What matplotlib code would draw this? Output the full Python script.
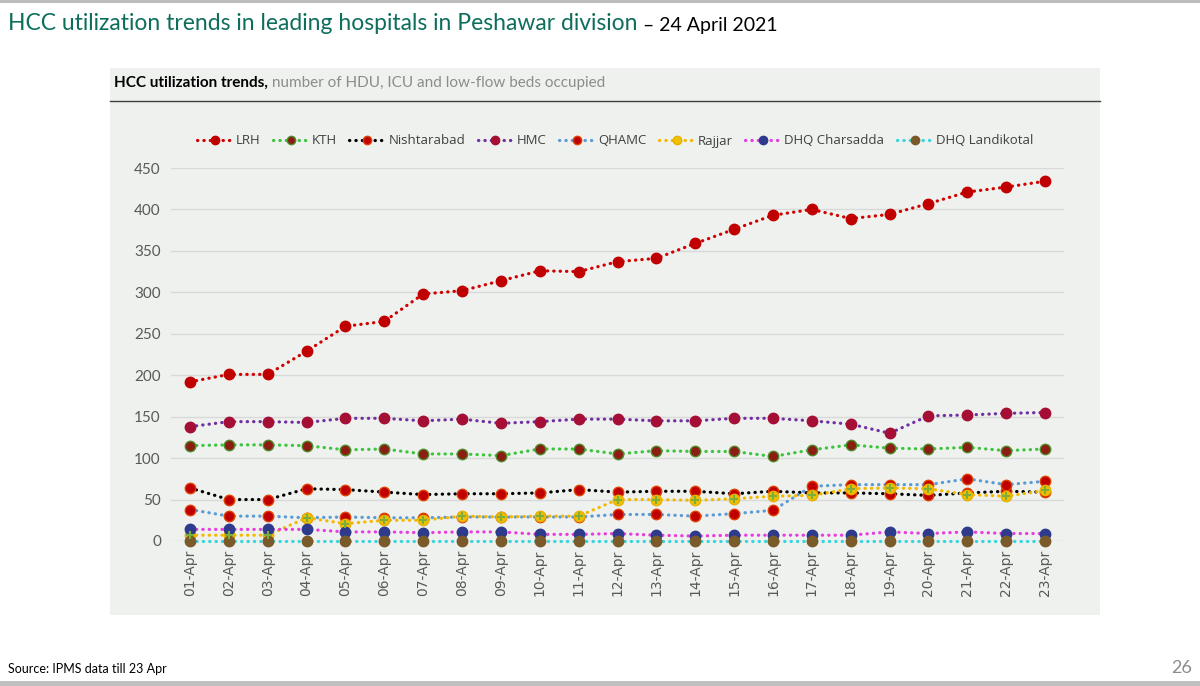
import matplotlib
matplotlib.use("Agg")
import matplotlib.pyplot as plt
from matplotlib.patches import Rectangle
from matplotlib.lines import Line2D
from matplotlib.text import Annotation

dates = ["01-Apr", "02-Apr", "03-Apr", "04-Apr", "05-Apr", "06-Apr", "07-Apr", "08-Apr",
         "09-Apr", "10-Apr", "11-Apr", "12-Apr", "13-Apr", "14-Apr", "15-Apr", "16-Apr",
         "17-Apr", "18-Apr", "19-Apr", "20-Apr", "21-Apr", "22-Apr", "23-Apr"]

lrh = [192, 201, 201, 229, 259, 265, 298, 302, 314, 326, 325, 337, 341, 359, 376, 393,
       400, 389, 394, 407, 421, 427, 434]
kth = [115, 116, 116, 115, 110, 111, 105, 105, 103, 111, 111, 105, 109, 108, 108, 102,
       110, 116, 112, 111, 113, 109, 111]
nishtarabad = [64, 50, 50, 63, 62, 59, 56, 57, 57, 58, 62, 59, 60, 60, 57, 60,
               58, 58, 57, 55, 58, 60, 59]
hmc = [138, 144, 144, 143, 148, 148, 145, 147, 142, 144, 147, 147, 145, 145, 148, 148,
       145, 141, 130, 151, 152, 154, 155]
qhamc = [38, 30, 30, 28, 29, 28, 28, 29, 29, 29, 29, 32, 32, 30, 33, 37,
         66, 68, 68, 68, 75, 68, 72]
rajjar = [7, 7, 7, 28, 21, 25, 25, 30, 29, 30, 30, 50, 50, 49, 51, 54,
          55, 63, 64, 63, 56, 54, 61]
charsadda = [14, 14, 14, 14, 11, 11, 10, 11, 11, 8, 8, 9, 7, 6, 7, 7,
             7, 7, 11, 9, 11, 9, 9]
landikotal = [0] * 23

series = [
    ("LRH", lrh, "#d00000", "#c00000", "#c00000"),
    ("KTH", kth, "#3cc43c", "#8b1d12", "#4f8a2a"),
    ("Nishtarabad", nishtarabad, "#000000", "#c00000", "#e04000"),
    ("HMC", hmc, "#7030a0", "#a50f35", "#a50f35"),
    ("QHAMC", qhamc, "#5b9bd5", "#c00000", "#e04000"),
    ("Rajjar", rajjar, "#f5b800", "#f0c000", "#e8b000"),
    ("DHQ Charsadda", charsadda, "#e83ce0", "#2e3a8c", "#2e3a8c"),
    ("DHQ Landikotal", landikotal, "#33d6e0", "#7a5a28", "#7a5a28"),
]

W, H = 1200, 686
fig = plt.figure(figsize=(12, 6.86), dpi=100)
fig.patch.set_facecolor("white")

def fx(px):
    return px / W

def fy(py):
    return 1 - py / H

# decorative bars and panel
fig.add_artist(Rectangle((0, fy(3)), 1, 3 / H, transform=fig.transFigure, color="#bdbdbd", lw=0))
fig.add_artist(Rectangle((0, 0), 1, 5 / H, transform=fig.transFigure, color="#c0c0c0", lw=0))
fig.add_artist(Rectangle((fx(110), fy(615)), fx(990), (615 - 68) / H, transform=fig.transFigure,
                         facecolor="#eef1ee", lw=0, zorder=0))
fig.add_artist(Line2D([fx(110), fx(1100)], [fy(101), fy(101)], transform=fig.transFigure,
                      color="#404040", lw=1.0))

# titles
t1 = fig.text(fx(8), fy(24), "HCC utilization trends in leading hospitals in Peshawar division",
              family="Lato", fontsize=16.5, color="#0e6e5c", va="center", ha="left")
fig.add_artist(Annotation(" \u2013 24 April 2021", xy=(1, 0), xycoords=t1, va="bottom", ha="left",
                          family="Lato", fontsize=14, color="#000000"))

h1 = fig.text(fx(114), fy(83), "HCC utilization trends,", family="Lato", fontweight="bold",
              fontsize=11, color="#000000", va="center", ha="left")
fig.add_artist(Annotation(" number of HDU, ICU and low-flow beds occupied", xy=(1, 0), xycoords=h1,
                          va="bottom", ha="left", family="Lato", fontsize=11, color="#8c8c8c"))

fig.text(fx(8), fy(669), "Source: IPMS data till 23 Apr", family="Lato", fontsize=9,
         color="#000000", va="center", ha="left")
fig.text(fx(1192), fy(668), "26", family="Lato", fontsize=13, color="#8c8c8c",
         va="center", ha="right")

# axes
ax = fig.add_axes([fx(170.6), fy(541), fx(1064.4 - 170.6), (541 - 168) / H])
ax.set_facecolor("none")
x = list(range(len(dates)))
handles = []
for name, vals, lc, mfc, mec in series:
    ln, = ax.plot(x, vals, color=lc, lw=2.3, linestyle=(0, (0.1, 1.9)),
                  dash_capstyle="round", marker="o", markersize=7.5,
                  markerfacecolor=mfc, markeredgecolor=mec, markeredgewidth=1.0,
                  label=name, zorder=3, clip_on=False)
    if name == "Rajjar":
        ax.plot(x, vals, linestyle="none", marker="+", markersize=6,
                markeredgecolor="#7cae3a", markeredgewidth=1.5, zorder=4, clip_on=False)
    handles.append(ln)

ax.set_xlim(-0.5, len(dates) - 0.5)
ax.set_ylim(0, 450)
ax.set_yticks(range(0, 451, 50))
ax.set_xticks(x)
ax.set_xticklabels(dates, rotation=90, fontsize=10, color="#595959", family="DejaVu Sans")
for lab in ax.get_yticklabels():
    lab.set_family("Lato")
ax.tick_params(axis="y", labelsize=11, colors="#595959", length=0, pad=7)
ax.tick_params(axis="x", length=0, pad=6)
ax.grid(axis="y", color="#d9d9d9", lw=1)
ax.set_axisbelow(True)
for s in ax.spines.values():
    s.set_visible(False)

leg = fig.legend(handles=handles, loc="center", bbox_to_anchor=(fx(615), fy(141)),
                 ncol=8, frameon=False, handlelength=2.7, columnspacing=0.95,
                 handletextpad=0.25, markerscale=0.8,
                 prop={"family": "Open Sans", "size": 9.5})
for t in leg.get_texts():
    t.set_color("#404040")

fig.savefig("out.png", dpi=100, facecolor="white")
